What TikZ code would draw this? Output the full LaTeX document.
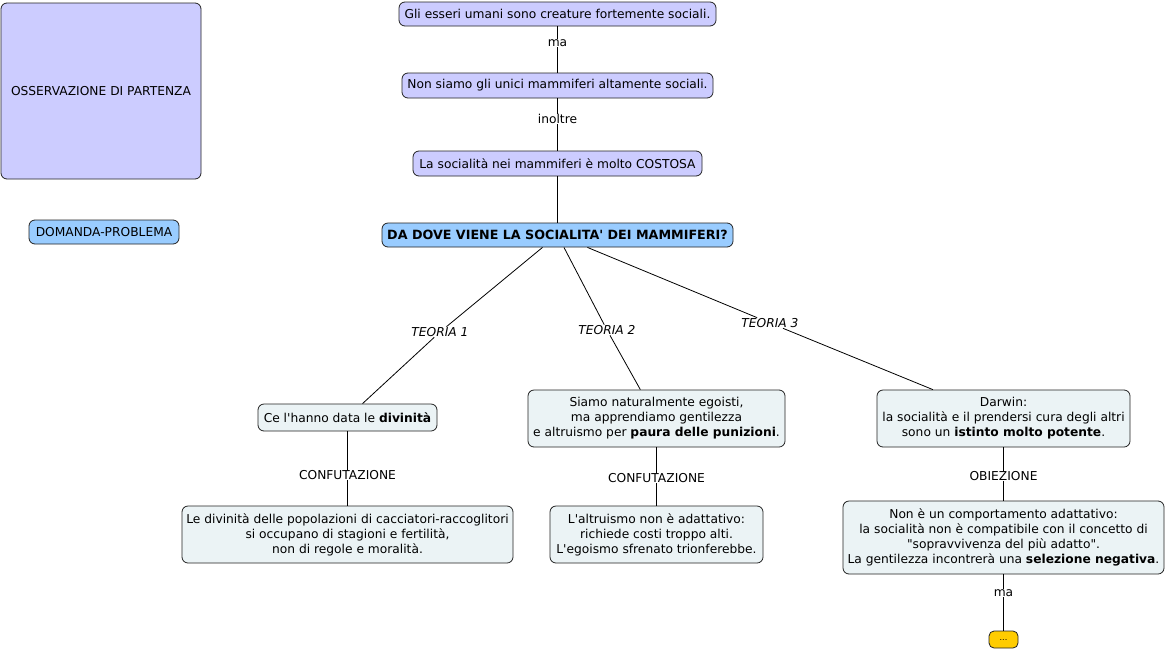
\documentclass[tikz,border=0pt]{standalone}
\usepackage{fontspec}
\setmainfont{DejaVu Sans}[Ligatures=TeXOff]
\definecolor{lav}{HTML}{CCCCFF}
\definecolor{lblue}{HTML}{99CCFF}
\definecolor{pale}{HTML}{EBF3F5}
\definecolor{gold}{HTML}{FFCC00}
\definecolor{edge}{HTML}{222222}
\tikzset{
  box/.style={draw=edge, line width=0.8pt, rounded corners=6pt, inner sep=0pt,
    align=center, font=\fontsize{12.25}{15}\selectfont},
  lavbox/.style={box, fill=lav},
  bluebox/.style={box, fill=lblue},
  palebox/.style={box, fill=pale},
  goldbox/.style={box, fill=gold, rounded corners=5pt},
  lbl/.style={inner sep=0.5pt, font=\fontsize{12.25}{14}\selectfont},
  ilbl/.style={lbl, font=\fontsize{12.25}{14}\selectfont\itshape},
  conn/.style={draw=black, line width=0.8pt}
}
\begin{document}
\begin{tikzpicture}[x=1pt,y=-1pt]
\useasboundingbox[fill=white] (0,0) rectangle (1166,651);

\node[lavbox, minimum width=200, minimum height=176] (obs) at (101,91) {OSSERVAZIONE DI PARTENZA};
\node[bluebox, minimum width=150, minimum height=24] (dom) at (104,232) {DOMANDA-PROBLEMA};

\node[lavbox, minimum width=317, minimum height=24] (n1) at (557.5,14) {Gli esseri umani sono creature fortemente sociali.};
\node[lavbox, minimum width=311, minimum height=25] (n2) at (557.5,85.5) {Non siamo gli unici mammiferi altamente sociali.};
\node[lavbox, minimum width=289, minimum height=25] (n3) at (557.5,163.5) {La socialità nei mammiferi è molto COSTOSA};
\node[bluebox, minimum width=351, minimum height=24, font=\fontsize{12.7}{15}\selectfont\bfseries] (q) at (557.5,235) {DA DOVE VIENE LA SOCIALITA' DEI MAMMIFERI?};

\node[palebox, minimum width=179, minimum height=27] (t1) at (347.5,417.5) {Ce l'hanno data le \textbf{divinità}};
\node[palebox, minimum width=257, minimum height=57] (t2) at (656.5,418.5) {Siamo naturalmente egoisti,\\ma apprendiamo gentilezza\\e altruismo per \textbf{paura delle punizioni}.};
\node[palebox, minimum width=253, minimum height=57] (t3) at (1003.5,418.5) {Darwin:\\la socialità e il prendersi cura degli altri\\sono un \textbf{istinto molto potente}.};

\node[palebox, minimum width=331, minimum height=57] (c1) at (347.5,534.5) {Le divinità delle popolazioni di cacciatori-raccoglitori\\si occupano di stagioni e fertilità,\\non di regole e moralità.};
\node[palebox, minimum width=213, minimum height=57] (c2) at (656.5,534.5) {L'altruismo non è adattativo:\\richiede costi troppo alti.\\L'egoismo sfrenato trionferebbe.};
\node[palebox, minimum width=321, minimum height=73] (c3) at (1003.5,537.5) {Non è un comportamento adattativo:\\la socialità non è compatibile con il concetto di\\"sopravvivenza del più adatto".\\La gentilezza incontrerà una \textbf{selezione negativa}.};
\node[goldbox, minimum width=29, minimum height=17, font=\fontsize{8}{10}\selectfont] (dots) at (1003.5,639.5) {...};

\node[lbl] (ma1) at (557.5,43) {ma};
\node[lbl] (ino) at (557.5,119) {inoltre};
\node[ilbl] (te1) at (440,332) {TEORIA 1};
\node[ilbl] (te2) at (607,330) {TEORIA 2};
\node[ilbl] (te3) at (770,323) {TEORIA 3};
\node[lbl] (cf1) at (347.5,475) {CONFUTAZIONE};
\node[lbl] (cf2) at (656.5,478) {CONFUTAZIONE};
\node[lbl] (obz) at (1003.5,476) {OBIEZIONE};
\node[lbl] (ma2) at (1003.5,593) {ma};

\draw[conn] (n1) -- (ma1) -- (n2);
\draw[conn] (n2) -- (ino) -- (n3);
\draw[conn] (n3) -- (q);
\draw[conn] (q) -- (te1) -- (t1);
\draw[conn] (q) -- (te2) -- (t2);
\draw[conn] (q) -- (te3) -- (t3);
\draw[conn] (t1) -- (cf1) -- (c1);
\draw[conn] (t2) -- (cf2) -- (c2);
\draw[conn] (t3) -- (obz) -- (c3);
\draw[conn] (c3) -- (ma2) -- (dots);
\end{tikzpicture}
\end{document}
